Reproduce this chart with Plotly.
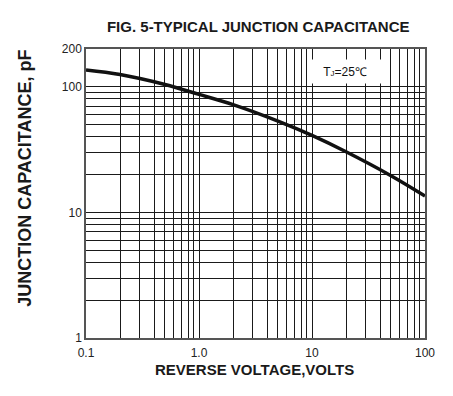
import plotly.graph_objects as go

# Data
voltage = [0.1, 0.2, 0.5, 1.0, 2.0, 5.0, 10.0, 20.0, 50.0, 100.0]
capacitance = [136, 125.1, 104.2, 87, 72.1, 53.3, 41, 30.4, 19.6, 13.5]

x_tickvals = [0.1, 1, 10, 100]
x_ticktext = ["0.1", "1.0", "10", "100"]
y_tickvals = [1, 10, 100, 200]
y_ticktext = ["1", "10", "100", "200"]
x_minor = [0.2, 0.3, 0.4, 0.5, 0.6, 0.7, 0.8, 0.9,
           2, 3, 4, 5, 6, 7, 8, 9,
           20, 30, 40, 50, 60, 70, 80, 90]
y_minor = [2, 3, 4, 5, 6, 7, 8, 9, 20, 30, 40, 50, 60, 70, 80, 90]

FONT = "Liberation Sans, Arial, sans-serif"

fig = go.Figure()
fig.add_trace(go.Scatter(
    x=voltage, y=capacitance, mode="lines",
    line=dict(color="#111111", width=3.5, shape="spline", smoothing=1.0),
    showlegend=False, hoverinfo="skip",
))

axis_common = dict(
    type="log",
    showgrid=True, gridcolor="#1a1a1a", gridwidth=1,
    showline=True, linecolor="#555555", linewidth=1.5, mirror=True,
    ticks="", zeroline=False,
    tickfont=dict(family=FONT, size=12, color="#222222"),
)

fig.update_xaxes(
    **axis_common,
    range=[-1, 2],
    tickmode="array", tickvals=x_tickvals, ticktext=x_ticktext,
    ticklabelstandoff=3,
    minor=dict(tickmode="array", tickvals=x_minor, showgrid=True,
               gridcolor="#1a1a1a", gridwidth=1, ticks=""),
)
fig.update_yaxes(
    **axis_common,
    range=[0, 2.30103],
    tickmode="array", tickvals=y_tickvals, ticktext=y_ticktext,
    minor=dict(tickmode="array", tickvals=y_minor, showgrid=True,
               gridcolor="#1a1a1a", gridwidth=1, ticks=""),
)

W, H = 445, 388  # page body has an 8px default margin
fig.update_layout(
    width=W, height=H,
    margin=dict(l=78, r=28, t=41, b=58),
    paper_bgcolor="white", plot_bgcolor="white",
    title=dict(
        text="<b>FIG. 5-TYPICAL JUNCTION CAPACITANCE</b>",
        font=dict(family=FONT, size=15, color="#1a1a1a"),
        x=0.508, xref="paper", xanchor="center",
        y=1 - 19 / H, yref="container", yanchor="middle",
    ),
    annotations=[
        dict(
            text="T<span style='font-size:8px'>J</span>=25℃",
            xref="paper", yref="paper", x=0.764, y=0.922,
            xanchor="center", yanchor="middle", showarrow=False,
            font=dict(family=FONT, size=12, color="#111111"),
            bgcolor="white", width=72, height=21,
        ),
        dict(
            text="<b>REVERSE VOLTAGE,VOLTS</b>",
            xref="paper", yref="paper", x=0.4985, y=-0.1107,
            xanchor="center", yanchor="middle", showarrow=False,
            font=dict(family=FONT, size=15, color="#1a1a1a"),
        ),
        dict(
            text="<b>JUNCTION CAPACITANCE, pF</b>",
            xref="paper", yref="paper", x=-0.18, y=0.554,
            xanchor="center", yanchor="middle", showarrow=False,
            textangle=-90,
            font=dict(family=FONT, size=18, color="#1a1a1a"),
        ),
    ],
)

fig.write_html("out.html")
